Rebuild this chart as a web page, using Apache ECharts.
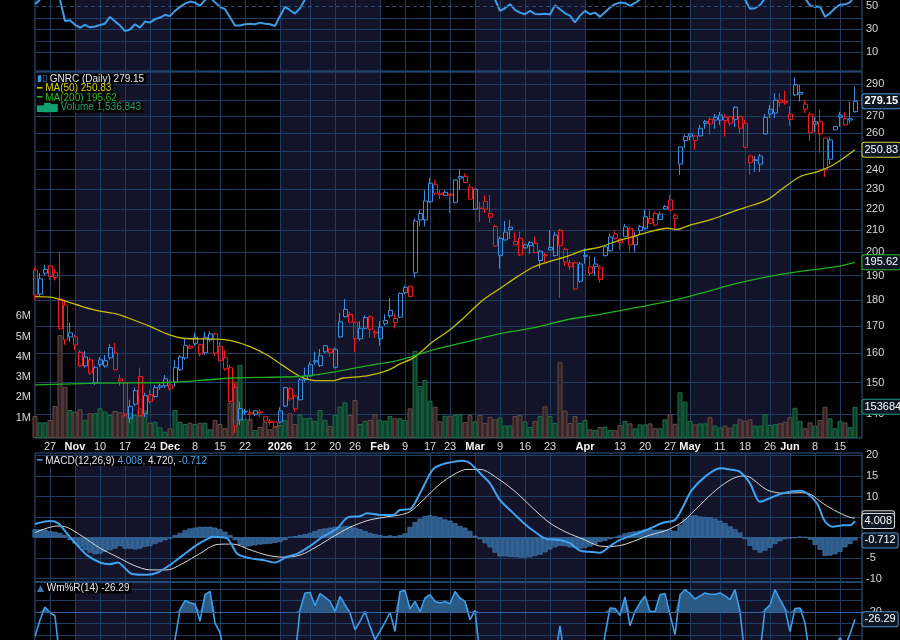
<!DOCTYPE html>
<html>
<head>
<meta charset="utf-8">
<script src="https://cdn.jsdelivr.net/npm/echarts@6/dist/echarts.min.js"></script>
<style>
html, body { margin: 0; padding: 0; background: #000; }
#chart { width: 900px; height: 640px; }
</style>
</head>
<body>
<div id="chart"></div>
<script>
// first candle index (0 = Oct 27 2025)
var firstIdx = -3;

// daily OHLC
var open = [
 192.3,182.4,192.5,194.1,191.1,168.9,178.0,167.4,165.9,160.4,
 155.6,157.7,149.9,157.7,155.6,158.4,160.1,151.2,149.9,138.6,
 143.0,152.0,140.0,146.0,145.4,148.9,148.9,147.9,150.2,154.3,
 158.4,162.5,165.8,163.1,160.2,164.8,167.0,162.5,158.4,155.0,
 148.3,141.6,140.6,140.3,139.9,140.6,139.1,137.7,137.5,137.5,
 142.4,148.0,145.6,144.4,150.9,152.2,157.4,155.7,162.7,161.5,
 155.1,165.9,176.3,174.4,171.4,165.2,169.1,173.5,167.7,165.2,
 170.8,173.8,172.8,173.3,182.9,185.5,191.1,217.9,214.8,223.6,
 232.2,227.9,226.8,227.4,223.3,236.4,236.4,231.0,220.0,220.5,
 223.7,216.1,211.7,198.5,205.5,210.2,204.8,206.3,203.3,202.9,
 204.0,196.4,198.9,202.1,198.5,209.9,201.3,195.4,195.4,187.6,
 198.7,190.9,193.7,193.6,198.5,200.7,208.3,204.2,207.0,210.9,
 203.3,209.8,210.9,215.5,217.9,215.0,221.2,224.5,215.5,243.0,
 256.0,259.7,258.6,258.6,265.9,268.2,267.8,267.8,267.5,269.8,
 268.2,269.8,265.9,247.4,245.0,243.0,259.7,271.4,272.0,279.9,
 279.0,271.4,289.4,283.6,274.4,271.4,266.8,266.8,257.4,245.6,
 264.0,270.8,268.6,268.6,272.8
];
var high = [
 193.6,191.1,194.5,194.5,192.8,200.1,180.0,171.2,166.7,161.2,
 160.8,158.4,155.6,158.7,159.4,163.4,163.7,152.7,149.9,144.4,
 148.3,155.0,146.7,147.6,149.2,149.6,152.5,150.9,157.7,159.4,
 165.2,163.1,167.4,163.4,167.8,168.0,167.4,164.0,161.2,155.9,
 149.6,143.8,141.5,141.5,141.2,141.5,139.4,138.3,137.8,142.0,
 148.6,148.6,146.0,151.5,155.0,157.0,160.6,161.5,162.9,161.8,
 162.0,175.0,180.4,175.3,171.6,171.7,174.0,174.0,168.6,171.7,
 174.4,180.8,174.8,183.0,185.8,185.8,215.5,219.6,229.4,235.6,
 234.4,229.4,229.4,227.9,235.0,240.4,238.0,232.6,230.0,223.6,
 226.8,227.0,212.5,207.1,214.3,214.8,208.8,209.4,203.5,205.0,
 207.0,201.1,199.8,210.0,209.2,210.5,202.1,196.6,195.8,195.8,
 201.7,198.5,197.9,194.5,203.3,208.3,209.6,206.4,212.9,211.5,
 209.2,212.4,219.6,219.3,218.8,218.8,222.0,227.0,218.0,252.6,
 259.2,260.3,259.2,265.0,267.8,269.6,271.4,272.6,271.4,270.5,
 276.3,270.5,267.8,248.0,247.4,248.5,271.4,276.9,284.1,284.2,
 285.7,276.3,294.3,289.4,279.9,272.8,269.6,274.3,257.4,258.2,
 264.4,272.8,272.6,278.8,288.3
];
var low = [
 180.0,181.6,190.0,188.2,187.8,168.5,163.0,164.1,161.2,155.3,
 155.0,152.5,149.2,155.3,155.0,157.7,154.0,148.8,139.1,137.1,
 142.3,139.0,139.0,143.2,145.0,147.6,148.2,147.3,148.6,153.8,
 157.7,161.5,162.7,158.9,159.4,164.1,159.0,157.0,153.9,143.5,
 134.2,136.6,139.6,137.7,139.3,138.9,137.7,136.5,135.7,137.0,
 142.1,144.0,140.6,144.1,150.2,151.9,156.0,155.2,160.2,158.7,
 154.7,165.5,173.2,171.0,160.5,164.5,168.7,165.5,165.5,162.7,
 170.1,173.0,169.0,172.9,182.3,181.0,189.0,211.8,211.7,223.0,
 227.0,224.9,226.4,218.0,222.8,229.4,233.0,224.5,219.6,213.9,
 218.2,213.3,202.5,192.9,205.3,205.9,203.2,198.3,201.8,199.4,
 199.5,193.0,195.5,200.9,198.1,180.9,194.1,192.5,184.0,187.0,
 195.0,190.0,190.0,187.0,198.1,200.2,205.5,201.1,206.9,200.2,
 200.2,207.8,210.1,212.9,212.0,214.8,219.6,219.3,210.6,237.2,
 251.8,256.3,250.9,258.3,262.7,259.2,262.7,265.0,258.2,264.4,
 263.8,259.7,251.8,237.2,238.8,238.8,259.5,269.0,269.0,275.7,
 276.9,264.4,282.4,279.0,272.0,255.8,260.7,249.1,236.2,243.0,
 261.8,264.0,264.4,265.9,272.2
];
var close = [
 182.0,188.6,191.0,189.5,189.2,180.4,164.8,165.9,163.0,155.6,
 158.7,153.2,155.0,156.0,157.4,162.0,154.3,150.5,140.0,142.3,
 147.3,139.4,145.7,143.8,148.3,148.5,151.2,149.2,155.0,158.7,
 162.7,161.8,163.4,159.7,165.8,167.0,160.1,157.4,154.6,143.8,
 136.3,138.1,140.8,139.9,140.9,140.3,137.8,137.3,136.0,140.9,
 148.3,144.7,141.5,150.9,152.2,156.0,157.0,159.1,160.5,160.2,
 161.4,171.5,173.5,171.4,165.2,169.1,173.1,168.6,167.3,169.5,
 172.0,175.9,171.3,182.6,185.1,181.4,214.3,214.8,224.0,232.9,
 227.9,227.1,228.3,226.8,234.6,235.6,233.3,224.9,229.9,220.4,
 220.0,217.9,202.8,206.2,209.1,211.4,203.3,198.8,201.9,204.4,
 199.9,200.5,198.5,201.0,207.7,202.9,195.7,193.7,184.4,194.9,
 198.2,193.7,194.9,188.3,202.4,206.9,206.3,205.9,211.6,203.3,
 207.0,211.6,216.3,213.2,212.4,217.6,220.1,219.5,216.8,252.4,
 258.2,258.4,256.0,263.0,266.8,265.5,269.4,270.8,269.5,265.9,
 275.5,263.0,252.2,243.7,245.3,247.4,269.4,274.3,279.9,278.5,
 278.2,268.2,283.1,284.7,277.4,260.4,265.5,259.7,239.9,256.3,
 262.1,269.4,265.0,267.8,279.15
];
// volume in millions
var volume = [
 1.08,0.77,0.77,0.89,1.58,5.07,2.53,1.38,1.30,1.41,
 0.89,1.22,1.22,1.46,1.30,1.13,1.33,1.27,1.13,1.22,
 1.13,1.46,1.35,0.75,0.80,0.53,0.31,0.48,1.38,0.80,
 0.69,0.75,0.69,0.75,0.75,0.43,0.89,0.69,0.48,1.74,
 2.77,3.60,0.92,0.94,0.39,0.54,0.80,0.43,0.56,0.64,
 0.89,1.22,0.69,1.15,0.97,0.99,0.84,1.38,0.89,0.59,
 1.13,1.54,1.76,1.13,1.87,0.69,0.84,0.89,1.18,0.89,
 0.85,1.08,0.97,0.97,0.89,1.46,4.29,2.56,2.86,1.84,
 1.54,0.82,1.10,1.10,1.13,1.18,0.79,1.13,0.82,1.13,
 0.74,1.05,0.92,1.00,0.62,0.62,1.08,1.13,0.82,0.54,
 0.84,1.08,1.56,1.08,0.74,3.73,1.35,0.74,1.08,0.74,
 0.89,0.43,0.39,0.54,0.56,0.39,0.39,0.64,0.84,0.72,
 0.48,0.67,0.67,0.72,0.48,0.48,0.92,1.17,0.70,2.25,
 1.79,0.84,0.67,0.72,0.72,1.02,0.61,0.51,0.61,0.51,
 0.67,0.92,0.85,0.92,0.61,0.61,1.17,0.64,0.69,0.72,
 0.80,1.02,1.49,0.85,0.48,0.77,0.61,0.89,1.54,0.97,
 0.48,0.84,0.77,0.53,1.536843
];

// moving averages, sampled [day index, value]
var ma50X = [-3,0,3.4,6.6,10,13.4,16.6,20,23.4,26.6,30,33.4,36,40,43.4,46.6,50,52,54,56.6,58.6,63.4,67.4,70,72.6,76.6,80,83.4,86.6,90,93.4,96.6,100,103.4,106.6,110,113.4,116.6,120,123.4,125.4,128,132,136.6,140.6,143.4,146.6,150,153.4,156.6,161];
var ma50V = [181.3,181.1,179.3,177.3,175.6,174.5,172.3,169.8,167.0,165.4,165.2,165.1,164.6,162.4,159.4,155.7,152.0,150.9,150.6,150.6,151.5,152.2,154.0,156.3,158.3,164.2,168.5,174.2,180.0,184.6,189.4,193.5,196.0,198.2,200.8,202.3,205.0,207.0,209.3,210.9,210.4,212.4,214.8,218.8,222.0,224.5,230.4,236.3,238.9,242.5,250.83];
var ma200X = [-3,10,23.4,30,36.6,50,56.6,63.4,70,76.6,83.4,90,96.6,103.4,110,123.4,130,136.6,143.4,150,156.6,161];
var ma200V = [149.2,149.8,150.0,150.7,151.5,152.0,153.5,155.6,157.7,161.2,164.2,167.1,169.2,172.3,174.4,179.3,182.6,186.3,189.4,191.7,193.5,195.62];

// MACD(12,26,9)
var macdX = [-3,0,1.6,3.4,5.4,7.4,10,12,13.6,14.6,16.4,19.4,21.4,24,26.6,29.4,31.4,32.6,35.4,37.4,39.4,42.6,45,47.4,49.4,52,54.6,57.4,59.6,62,63.4,66,68.6,70,72,74,76.6,78.6,80,82.6,84,86,88,90,92,94.4,96.6,99.4,102,104,106,108,110,112,114,117.4,120,122.6,125,126.6,128.4,131.4,134,136,138,140,142,144,146.6,150,151.4,153.4,155,156.6,158.6,160,161];
var macdV = [3.3,4.0,3.5,1.0,-1.8,-4.3,-6.1,-6.5,-6.1,-7.0,-8.9,-9.1,-8.6,-6.7,-4.3,-1.8,-0.4,0.2,-0.2,-3.9,-4.9,-5.5,-6.1,-4.7,-4.0,-2.1,0.2,2.2,4.9,5.2,5.9,5.5,5.5,6.7,6.9,10.8,16.6,17.9,18.3,18.7,18.1,15.7,13.2,9.1,6.7,3.9,1.7,-0.4,-0.6,-1.4,-3.2,-3.5,-3.7,-2.1,-0.6,0.9,2.2,3.6,4.3,7.5,11.6,15.2,16.9,16.6,16.0,13.2,8.7,9.6,10.8,11.4,10.8,8.3,3.9,2.6,3.0,3.0,4.008];
var signalX = [-3,1.4,3.4,6.6,10,13.4,16.6,20,23.4,26.6,30,33.4,36.6,40,43.4,46.6,50,53.4,56.6,60,63.4,66.6,70,72,74.6,77.4,80,83.4,86,90,93.4,96.6,100,103.4,106.6,110,112,114.6,117.4,120,123.4,126.6,130,133.4,136.6,138.6,140,143.4,146.6,150,152,154.6,157.4,160,161];
var signalV = [1.2,2.8,2.5,0.2,-2.6,-4.7,-6.7,-7.9,-7.9,-6.3,-3.9,-1.7,-1.6,-3.0,-4.3,-4.8,-4.3,-2.2,0.2,2.5,4.1,4.9,5.5,6.3,9.1,12.4,14.8,16.6,16.6,14.0,10.8,7.1,3.5,1.2,-0.4,-2.1,-2.2,-1.8,-0.6,0.6,1.8,3.9,7.9,11.8,14.4,15.0,14.7,11.6,10.8,10.9,10.6,8.3,6.3,4.9,4.72];
var macdHist = [
 2.0,2.0,1.9,1.6,1.4,1.1,0.6,-0.65,-1.5,-2.3,
 -3.1,-3.7,-4.1,-3.9,-3.5,-3.1,-2.7,-2.1,-2.7,-2.7,
 -2.9,-2.7,-2.3,-2.1,-1.6,-1.1,-0.65,-0.25,0.6,1.1,
 1.8,2.2,2.4,2.6,2.6,2.6,2.4,2.0,1.4,0.6,
 -0.65,-1.9,-2.3,-2.1,-1.9,-1.7,-1.6,-1.5,-1.3,-1.1,
 -0.65,0.15,0.3,0.6,0.8,1.1,1.6,2.0,2.2,2.4,
 2.6,2.6,2.8,2.8,2.4,2.0,1.6,1.1,0.8,0.6,
 0.3,0.5,0.3,0.6,1.0,2.6,3.8,4.6,5.2,5.4,
 5.2,4.9,4.4,4.1,3.5,2.8,2.4,1.6,0.4,-0.4,
 -1.4,-2.4,-3.7,-4.6,-4.6,-4.7,-4.8,-4.9,-4.9,-4.8,
 -4.5,-4.2,-3.6,-2.9,-2.4,-2.0,-2.1,-2.4,-2.6,-2.7,
 -2.5,-2.2,-1.7,-1.1,-0.8,-0.4,0.1,0.5,1.0,1.3,
 1.5,1.7,2.0,2.0,1.9,1.9,1.9,1.8,1.6,3.0,
 4.5,5.2,5.4,5.1,5.0,4.9,4.6,4.1,3.5,2.7,
 2.0,1.2,-0.4,-2.0,-3.0,-3.7,-3.2,-2.5,-1.6,-0.9,
 -0.4,-0.2,-0.1,0.2,0.1,-0.5,-1.8,-3.0,-4.5,-4.4,
 -4.1,-3.5,-2.4,-1.6,-0.712
];

// RSI (top pane, mostly cut off) and Williams %R(14)
var rsi = [
 51.9,56,62,64,62,56,37.4,38,34,31.6,
 33.9,31.8,32.5,33.9,35,40.9,37,33.5,28.5,30,
 34.5,31.6,36.8,35.9,38.9,40.3,42.6,41.7,46.1,49.6,
 52.4,54.2,53.3,50.4,55.5,58,53.5,49.6,47.6,40.5,
 33.5,33.5,34.5,35,34.5,35.9,35,34.5,33,41.7,
 49.6,46.7,43.7,48.4,56,60,58,61,62,61,
 62,66,68,66,62,64,66,63,62,64,
 65,67,64,68,70,66,78,78,81,83,
 79,78,78,77,80,80,78,72,75,70,
 68,64,56,46.1,48.4,51.9,47,44.6,43.2,46.1,
 43.5,43.2,43.7,43,51,47.6,44,42,36,42,
 46.1,43.2,44.6,40.9,45,49,52,53.3,53,50.4,
 53,56,60,58,57,59,61,58,57,70,
 72,72,70,73,74,72,74,75,74,72,
 75,70,56,48,48.5,51,57,64,67,66,
 66,61,68,68,57,50.8,49.6,50,41,44,
 48.5,51.5,51.8,53.5,59.3
];
var willR = [
 -41,-27,-15.7,-20.6,-23.5,-62,-88,-85,-90,-96,
 -84,-92,-78,-74,-70,-60,-82,-90,-98,-90,
 -78,-97,-80,-84,-72,-70,-62,-64,-44,-18,
 -10,-12,-13,-28,-5,-2,-29.6,-38,-58,-86,
 -98,-88,-85,-88,-84,-86,-93,-95,-98,-85,
 -62,-74,-60,-18,-3.5,-3,-14.5,-4,-7,-10.8,
 -19.5,-6.4,-13.7,-20.9,-35.4,-28.2,-19.5,-32.5,-44,-36.9,
 -29,-20.3,-36.9,-2.1,-1.2,-17.4,-10.8,-19.5,-7.8,-5,
 -10.8,-12.2,-10.8,-12.8,-2.1,-7.8,-10.8,-26.7,-18.6,-58,
 -55,-62,-90,-75,-62,-60,-78,-88,-82,-74,
 -82,-80,-84,-72,-60,-32,-62,-75,-92,-68,
 -56,-72,-68,-70,-40,-16.5,-17,-23,-7,-32,
 -19.5,-12,-6,-19.5,-19.5,-5,-4,-22.3,-39.7,-5,
 -0.6,-4,-8.7,-6,-3.5,-4.6,-4.6,-3.5,-6,-9.3,
 -0.6,-19.5,-60,-90,-80,-55,-18,-14,-0.6,-9.3,
 -17,-37,-17,-16.5,-29.6,-60,-55,-66,-95,-62,
 -52,-42.3,-50,-39,-26.29
];

// x-axis ticks (day index) and their labels
var tickIdx = [0,5,10,15,20,24,29,34,39,46,52,57,61,66,71,76,80,85,90,95,100,107,114,119,124,128,134,139,144,148,153,158];
var tickText = ['27','Nov','10','17','24','Dec','8','15','22','2026','12','20','26','Feb','9','17','23','Mar','9','16','23','Apr','13','20','27','May','11','18','26','Jun','8','15'];
// alternate months shaded
var shadeRanges = [[5,24],[46,66],[85,107],[128,148]];
var priceTicks = [140,150,160,170,180,190,200,210,220,230,240,250,260,270,280,290];

var FONT = '"Liberation Sans", Arial, sans-serif';
var GRIDC = '#1b3e64';
var BORDER = '#2a5a8c';
var BLUE = '#3a8fe8';
var RED = '#f21c1c';
var XMIN = -3, XMAX = 162.4;
var PMIN = Math.log(132.7), PMAX = Math.log(297.8);
var RSI_MAX = 57.3, WR_MAX = 6.1;

var lastI = firstIdx + close.length - 1;
var days = close.map(function (c, k) { return firstIdx + k; });

var candles = close.map(function (c, k) {
  var prev = k > 0 ? close[k - 1] : Infinity;
  var col = c >= prev ? BLUE : RED;
  return {
    value: [days[k], Math.log(open[k]), Math.log(c), Math.log(low[k]), Math.log(high[k])],
    itemStyle: { color: 'rgba(0,0,0,0)', color0: col, borderColor: col, borderColor0: col, borderWidth: 1 }
  };
});
var volBars = volume.map(function (v, k) {
  var up = k > 0 ? close[k] >= close[k - 1] : false;
  return {
    value: [days[k], v],
    itemStyle: up ? { color: '#0d4029', borderColor: '#1c6f49' } : { color: '#342424', borderColor: '#684947' }
  };
});
function pairs(xs, vs, tf) {
  return xs.map(function (x, k) { return [x, tf ? tf(vs[k]) : vs[k]]; });
}
function shadeData(top) {
  var d = [];
  shadeRanges.forEach(function (r) {
    d.push([r[0], top], [r[1], top], [r[1] + 0.5, '-']);
  });
  return d;
}
function shadeSeries(g, yi, top) {
  return {
    type: 'line', xAxisIndex: g, yAxisIndex: yi, data: shadeData(top), z: -1, silent: true,
    symbol: 'none', lineStyle: { opacity: 0 }, areaStyle: { color: '#131329', opacity: 1, origin: 'start' }
  };
}
function box(x, y, text, border, bold) {
  return {
    coord: [x, y], symbol: 'rect', symbolSize: 1, itemStyle: { color: 'rgba(0,0,0,0)' },
    label: {
      show: true, position: 'right', distance: 7, formatter: text, color: '#ffffff',
      backgroundColor: '#0b1622', borderColor: border, borderWidth: 1, borderRadius: 2,
      padding: [2, 2, 1, 2], fontSize: 11, fontFamily: FONT, fontWeight: bold ? 'bold' : 'normal'
    }
  };
}
function xAxisFor(g, labels) {
  return {
    type: 'value', gridIndex: g, min: XMIN, max: XMAX,
    axisLine: { show: false },
    axisTick: { show: false, customValues: tickIdx },
    axisLabel: {
      show: labels, customValues: tickIdx, margin: 3, fontSize: 11, fontFamily: FONT, color: '#dcdcdc',
      formatter: function (v) {
        var t = tickText[tickIdx.indexOf(Math.round(v))] || '';
        return t.length > 2 ? '{m|' + t + '}' : t;
      },
      rich: { m: { fontWeight: 'bold', color: '#f4f4f4', fontSize: 11, fontFamily: FONT } }
    },
    splitLine: { show: true, lineStyle: { color: GRIDC, width: 1 } }
  };
}
function yLabel() {
  return { color: '#d6d6d6', fontSize: 11, fontFamily: FONT, margin: 4 };
}
function legendTitle(left, top, text, rich) {
  return {
    left: left, top: top, padding: [0, 2, 0, 1], backgroundColor: '#000', text: text,
    textStyle: { fontSize: 10, fontFamily: FONT, fontWeight: 'normal', lineHeight: 10, rich: rich }
  };
}
var icon = { fontFamily: 'DejaVu Sans', fontSize: 9, lineHeight: 10 };
function ic(color) { return Object.assign({ color: color }, icon); }
function tx(color) { return { color: color, fontSize: 10, fontFamily: FONT, lineHeight: 10 }; }
function gridAt(top, height) {
  return { left: 35, right: 38, top: top, height: height, show: true,
    borderColor: BORDER, borderWidth: 1, outerBoundsMode: 'none', containLabel: false };
}

var chart = echarts.init(document.getElementById('chart'));
var option = {
  backgroundColor: '#000',
  animation: false,
  title: [
    legendTitle(36, 74, '{i|▮▯}{t| GNRC (Daily) 279.15}', { i: ic(BLUE), t: tx('#e6e6ee') }),
    legendTitle(36, 83.5, '{i|━}{t| MA(50) 250.83}', { i: ic('#d8cc00'), t: tx('#e0d400') }),
    legendTitle(36, 93, '{i|━}{t| MA(200) 195.62}', { i: ic('#22b522'), t: tx('#22bb22') }),
    legendTitle(36, 102.5, '{i|▅▇▆}{t| Volume 1,536,843}', { i: ic('#14a070'), t: tx('#16a57a') }),
    legendTitle(36, 456, '{i|━}{t| MACD(12,26,9) }{b|4.008,}{t| 4.720, }{b|-0.712}',
      { i: ic('#3fa2f2'), t: tx('#e6e6ee'), b: tx('#4aa8f2') }),
    legendTitle(36, 583.5, '{i|▲}{t| Wm%R(14) -26.29}', { i: ic('#3a79b0'), t: tx('#e6e6ee') })
  ],
  grid: [gridAt(-2, 73), gridAt(72, 366), gridAt(453, 129), gridAt(582, 122)],
  xAxis: [xAxisFor(0, false), xAxisFor(1, true), xAxisFor(2, false), xAxisFor(3, false)],
  yAxis: [
    { type: 'value', gridIndex: 0, position: 'right', min: -6.1, max: RSI_MAX,
      axisLine: { show: false }, axisTick: { show: false, customValues: [10, 20, 30, 40] },
      axisLabel: Object.assign(yLabel(), { customValues: [10, 30, 50] }),
      splitLine: { show: true, lineStyle: { color: GRIDC } } },
    { type: 'value', gridIndex: 1, position: 'right', min: PMIN, max: PMAX,
      axisLine: { show: false }, axisTick: { show: false, customValues: priceTicks.map(Math.log) },
      axisLabel: Object.assign(yLabel(), { customValues: priceTicks.map(Math.log),
        formatter: function (v) { return String(Math.round(Math.exp(v))); } }),
      splitLine: { show: true, lineStyle: { color: GRIDC } } },
    { type: 'value', gridIndex: 1, position: 'left', min: 0, max: 18.03,
      axisLine: { show: false }, axisTick: { show: false, customValues: [1, 2, 3, 4, 5, 6] },
      axisLabel: Object.assign(yLabel(), { customValues: [1, 2, 3, 4, 5, 6],
        formatter: function (v) { return v + 'M'; } }),
      splitLine: { show: false } },
    { type: 'value', gridIndex: 2, position: 'right', min: -10.85, max: 20.6,
      axisLine: { show: false }, axisTick: { show: false, customValues: [-10, -5, 0, 5, 10, 15, 20] },
      axisLabel: Object.assign(yLabel(), { customValues: [-10, -5, 0, 5, 10, 15, 20] }),
      splitLine: { show: true, lineStyle: { color: GRIDC } } },
    { type: 'value', gridIndex: 3, position: 'right', min: -100, max: WR_MAX,
      axisLine: { show: false }, axisTick: { show: false, customValues: [0, -10, -30, -40, -50, -60, -70, -90] },
      axisLabel: Object.assign(yLabel(), { customValues: [-20, -80] }),
      splitLine: { show: true, lineStyle: { color: GRIDC } } }
  ],
  series: [
    shadeSeries(0, 0, RSI_MAX),
    { name: 'RSI', type: 'line', xAxisIndex: 0, yAxisIndex: 0, z: 3,
      data: rsi.map(function (v, k) { return [days[k], v]; }),
      symbol: 'none', lineStyle: { color: '#3d9de8', width: 2 },
      markLine: { silent: true, symbol: 'none', label: { show: false },
        lineStyle: { color: '#25507d', type: [4, 3], width: 1 }, data: [{ yAxis: 50 }] },
      markPoint: { silent: true, data: [box(lastI, rsi[rsi.length - 1], '59.30', '#4a90d0', false)] } },

    shadeSeries(1, 1, PMAX),
    { name: 'Volume', type: 'bar', xAxisIndex: 1, yAxisIndex: 2, z: 2, barWidth: 5,
      data: volBars, itemStyle: { borderWidth: 1 },
      markPoint: { silent: true, data: [box(lastI, volume[volume.length - 1], '153684', '#1a9a7c', false)] } },
    { name: 'GNRC', type: 'candlestick', xAxisIndex: 1, yAxisIndex: 1, z: 3, barWidth: 4.5,
      data: candles,
      markPoint: { silent: true, z: 10, data: [box(lastI, Math.log(279.15), '279.15', '#4a90d0', true)] } },
    { name: 'MA50', type: 'line', xAxisIndex: 1, yAxisIndex: 1, z: 4, smooth: 0.3,
      data: pairs(ma50X, ma50V, Math.log), symbol: 'none', lineStyle: { color: '#c8c000', width: 1.3 },
      markPoint: { silent: true, data: [box(lastI, Math.log(250.83), '250.83', '#d6d23a', false)] } },
    { name: 'MA200', type: 'line', xAxisIndex: 1, yAxisIndex: 1, z: 4, smooth: 0.3,
      data: pairs(ma200X, ma200V, Math.log), symbol: 'none', lineStyle: { color: '#1fb01f', width: 1.3 },
      markPoint: { silent: true, data: [box(lastI, Math.log(195.62), '195.62', '#2cb02c', false)] } },

    shadeSeries(2, 3, 20.6),
    { name: 'Hist', type: 'bar', xAxisIndex: 2, yAxisIndex: 3, z: 2, barWidth: 5,
      data: macdHist.map(function (v, k) { return [days[k], v]; }),
      itemStyle: { color: '#2c5a88', borderColor: '#4682bd', borderWidth: 0.6 },
      markPoint: { silent: true, data: [box(lastI, -0.712, '-0.712', '#4a90d0', false)] } },
    { name: 'Signal', type: 'line', xAxisIndex: 2, yAxisIndex: 3, z: 3, smooth: 0.3,
      data: pairs(signalX, signalV), symbol: 'none', lineStyle: { color: '#d8d8d8', width: 1 },
      markPoint: { silent: true, data: [box(lastI, 4.72, '4.720', '#cfcfcf', false)] } },
    { name: 'MACD', type: 'line', xAxisIndex: 2, yAxisIndex: 3, z: 4, smooth: 0.3,
      data: pairs(macdX, macdV), symbol: 'none', lineStyle: { color: '#3fa2f2', width: 2 },
      markPoint: { silent: true, data: [box(lastI, 4.008, '4.008', '#d8d8d8', false)] } },

    shadeSeries(3, 4, WR_MAX),
    { name: 'WmRfill', type: 'line', xAxisIndex: 3, yAxisIndex: 4, z: 2, silent: true,
      data: willR.map(function (v, k) { return [days[k], Math.max(v, -20)]; }),
      symbol: 'none', lineStyle: { opacity: 0 }, areaStyle: { color: '#2a5983', opacity: 1, origin: -20 } },
    { name: 'WmR', type: 'line', xAxisIndex: 3, yAxisIndex: 4, z: 3,
      data: willR.map(function (v, k) { return [days[k], v]; }),
      symbol: 'none', lineStyle: { color: '#3d9de8', width: 1.6 },
      markLine: { silent: true, symbol: 'none', label: { show: false },
        lineStyle: { color: '#2f64a0', type: 'solid', width: 1 }, data: [{ yAxis: -20 }, { yAxis: -80 }] },
      markPoint: { silent: true, data: [box(lastI, -26.29, '-26.29', '#4a90d0', false)] } }
  ]
};
chart.setOption(option);
</script>
</body>
</html>
